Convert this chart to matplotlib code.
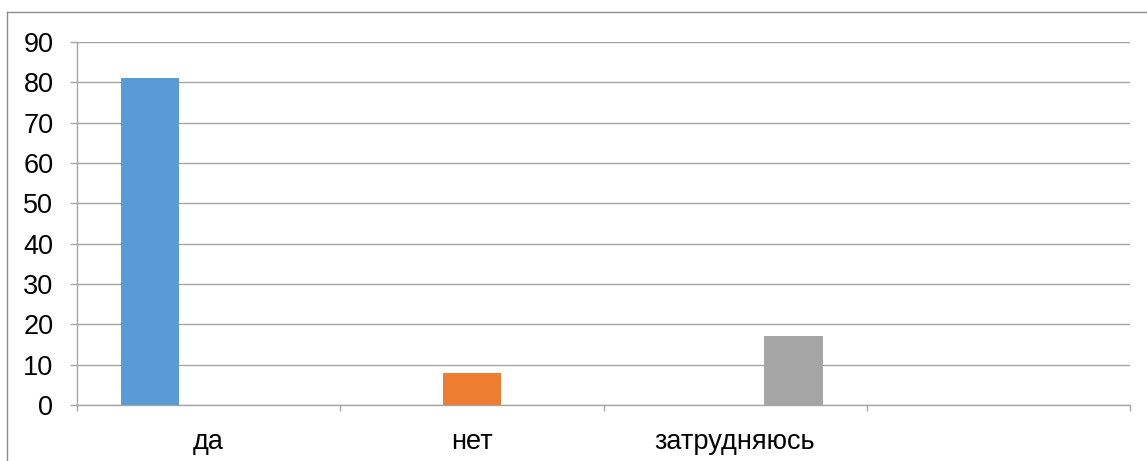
import matplotlib.pyplot as plt
from matplotlib.lines import Line2D

CATEGORIES = ['да', 'нет', 'затрудняюсь', '']
SERIES_VALUES = [81, 8, 17]
SERIES_COLORS = ['#5B9BD5', '#ED7D31', '#A5A5A5']
Y_TICKS = [0, 10, 20, 30, 40, 50, 60, 70, 80, 90]

GRID = '#A6A6A6'

plt.rcParams['font.family'] = ['Liberation Sans', 'DejaVu Sans']

fig = plt.figure(figsize=(11.47, 4.61), dpi=100)
ax = fig.add_axes([77 / 1147, 56 / 461, (1130 - 77) / 1147, (405 - 42) / 461])

# clustered layout: 3 series per category, gap width 150%
n_series = len(SERIES_VALUES)
width = 1 / (n_series + 1.5)
for i, (val, col) in enumerate(zip(SERIES_VALUES, SERIES_COLORS)):
    offset = (i - (n_series - 1) / 2) * width
    ax.bar(i + offset, val, width=width, color=col, zorder=3)

ax.set_xlim(-0.5, len(CATEGORIES) - 0.5)
ax.set_ylim(0, 90)
ax.set_yticks(Y_TICKS)
ax.yaxis.grid(True, color=GRID, linewidth=1.0, zorder=0)

ax.set_xticks([i - 0.5 for i in range(len(CATEGORIES) + 1)])
ax.set_xticklabels([])
ax.set_xticks(range(len(CATEGORIES)), minor=True)
ax.set_xticklabels(CATEGORIES, minor=True)
ax.tick_params(axis='x', which='major', length=4.5, color=GRID, width=1.0)
ax.tick_params(axis='x', which='minor', length=0, labelsize=19.5, pad=17)
ax.tick_params(axis='y', length=5, color=GRID, width=1.0, labelsize=19.5, pad=12)

for s in ['top', 'right']:
    ax.spines[s].set_visible(False)
ax.spines['left'].set_color(GRID)
ax.spines['bottom'].set_color(GRID)
ax.spines['left'].set_linewidth(1.0)
ax.spines['bottom'].set_linewidth(1.0)

# outer chart border (only left and top visible in the crop)
fig.add_artist(Line2D([7.5 / 1147, 7.5 / 1147], [0, 449 / 461], color='#8C8C8C', linewidth=1.0))
fig.add_artist(Line2D([7.5 / 1147, 1], [449 / 461, 449 / 461], color='#8C8C8C', linewidth=1.0))

fig.savefig('out.png', dpi=100, facecolor='white')
